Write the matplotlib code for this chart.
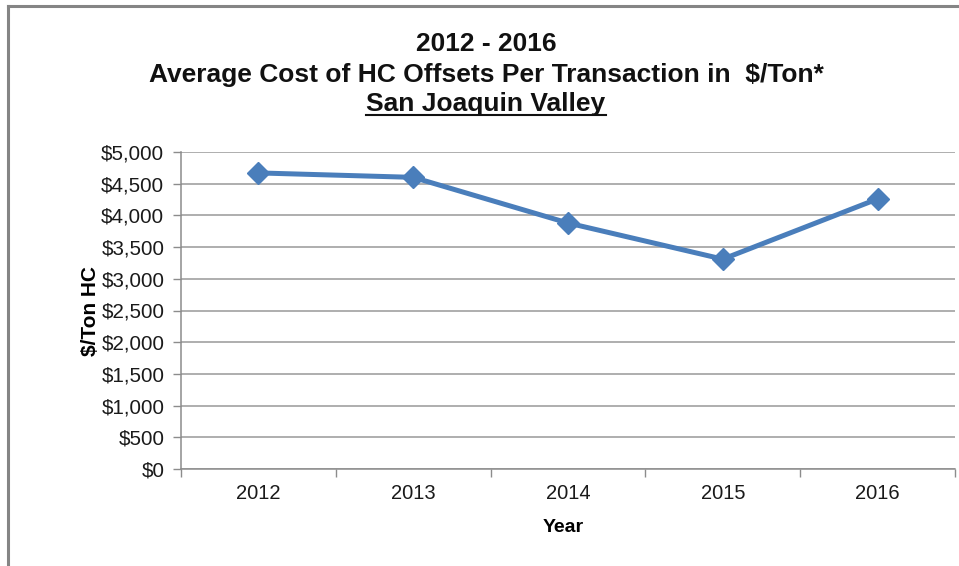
import matplotlib
matplotlib.use("Agg")
import matplotlib.pyplot as plt
from matplotlib.lines import Line2D
from matplotlib.ticker import FuncFormatter, FixedLocator

# data
years = ['2012', '2013', '2014', '2015', '2016']
avg_cost = [4670, 4600, 3880, 3310, 4260]
y_ticks = [0, 500, 1000, 1500, 2000, 2500, 3000, 3500, 4000, 4500, 5000]

title_lines = ['2012 - 2016',
               'Average Cost of HC Offsets Per Transaction in  $/Ton*',
               'San Joaquin Valley']

plt.rcParams['font.family'] = ['Liberation Sans', 'DejaVu Sans']

W, H = 959, 566
fig = plt.figure(figsize=(W / 100, H / 100), dpi=100)
fig.patch.set_facecolor('white')

# plot area in pixels: x 181..955, y 152..469
ax = fig.add_axes([181 / W, 1 - 469 / H, (955 - 181) / W, (469 - 152) / H])

x = [i + 0.5 for i in range(len(years))]
ax.plot(x, avg_cost, color='#4a7ebb', lw=3.6, marker='D', markersize=11.5,
        markerfacecolor='#4a7ebb', markeredgecolor='#4a7ebb', zorder=3,
        solid_joinstyle='round')

ax.set_xlim(0, len(years))
ax.set_ylim(0, 5000)
ax.set_yticks(y_ticks)
ax.yaxis.set_major_formatter(FuncFormatter(lambda v, p: '${:,.0f}'.format(v)))

# category ticks on boundaries, labels centred
ax.xaxis.set_major_locator(FixedLocator(range(len(years) + 1)))
ax.xaxis.set_minor_locator(FixedLocator(x))
ax.set_xticklabels([''] * (len(years) + 1))
ax.set_xticklabels(years, minor=True)
ax.tick_params(axis='x', which='major', length=6, width=1, color='#8c8c8c', direction='out')
ax.tick_params(axis='x', which='minor', length=0, pad=11, labelsize=14.5, labelcolor='#1a1a1a')
ax.tick_params(axis='y', length=6, width=1, color='#8c8c8c', direction='out', pad=6,
               labelsize=14.8, labelcolor='#1a1a1a')

ax.grid(axis='y', color='#999999', lw=1.1)
ax.set_axisbelow(True)
for s in ['top', 'right']:
    ax.spines[s].set_visible(False)
for s in ['left', 'bottom']:
    ax.spines[s].set_color('#8c8c8c')
    ax.spines[s].set_linewidth(1.1)

ax.set_xlabel('Year', fontsize=14, fontweight='bold')
ax.xaxis.set_label_coords(0.4935, -0.158)
ax.set_ylabel('$/Ton HC', fontsize=15, fontweight='bold')
ax.yaxis.set_label_coords(-0.105, 0.5)

# title, three centred lines, last underlined
cx = 486 / W
ys = [44, 75, 104]
t3 = None
for line, yp in zip(title_lines, ys):
    t3 = fig.text(cx, 1 - yp / H, line, ha='center', va='center',
                  fontsize=19, fontweight='bold', color='#111111')
fig.canvas.draw()
bb = t3.get_window_extent(renderer=fig.canvas.get_renderer())
uy = (H - 115) / H
fig.add_artist(Line2D([bb.x0 / W, bb.x1 / W], [uy, uy], color='#111111', lw=1.5))

# outer chart frame (left and top edges visible)
fig.add_artist(Line2D([8 / W, 8 / W], [0, 1 - 6 / H], color='#858585', lw=2.2))
fig.add_artist(Line2D([8 / W, 1], [1 - 6 / H, 1 - 6 / H], color='#858585', lw=2.2))

fig.savefig('out.png', dpi=100, facecolor='white')
